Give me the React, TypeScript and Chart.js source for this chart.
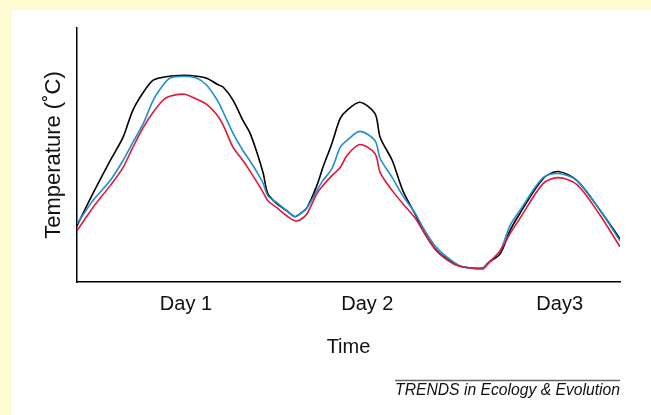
import { useEffect, useRef } from "react";
import { Chart, registerables } from "chart.js";

Chart.register(...registerables);

// Time in hours since start of record
const hours = [
  0, 2.1, 4.4, 6.1, 7.4, 8.8, 10.1, 11.4, 12.3, 14.2,
  15.9, 17.2, 18.6, 19.4, 20.7, 22.0, 22.9, 23.9, 24.7, 25.3,
  26.5, 27.8, 28.9, 29.6, 30.5, 31.8, 32.6, 33.8, 34.9, 35.8,
  37.5, 39.5, 40.2, 41.8, 43.2, 44.8, 45.9, 47.7, 49.9, 51.2,
  53.8, 54.5, 56.1, 57.4, 58.7, 61.8, 63.8, 66.3, 69.4, 72,
];

// Relative temperature (arbitrary units, axis has no numbers)
const blackSeries = [
  56, 88, 121, 144, 171, 189, 201, 204, 205, 206,
  205, 203, 197, 194, 181, 161, 149, 128, 108, 88,
  78, 71, 65, 68, 74, 96, 114, 138, 163, 171,
  179, 168, 144, 121, 91, 68, 51, 31, 19, 15,
  14, 19, 28, 51, 68, 103, 110, 101, 71, 43,
];

const blueSeries = [
  58, 81, 101, 121, 139, 158, 181, 196, 203, 205,
  203, 196, 181, 169, 148, 131, 121, 109, 98, 86,
  79, 71, 65, 68, 74, 91, 101, 113, 134, 141,
  150, 141, 123, 104, 86, 69, 54, 34, 20, 15,
  14, 19, 31, 56, 71, 104, 108, 101, 71, 41,
];

const redSeries = [
  51, 74, 96, 114, 134, 154, 169, 181, 185, 187,
  182, 177, 166, 156, 134, 121, 111, 99, 89, 81,
  74, 66, 61, 62, 68, 88, 96, 106, 114, 126,
  137, 128, 109, 91, 78, 64, 51, 31, 18, 15,
  13, 18, 31, 48, 63, 98, 104, 97, 66, 35,
];

const dayTickHours = [14.45, 38.5, 64.0];
const dayLabels = ["Day 1", "Day 2", "Day3"];

const yTitle = "Temperature (˚C)";
const xTitle = "Time";
const sourceNote = "TRENDS in Ecology & Evolution";

const FONT = "'Liberation Sans', Arial, Helvetica, sans-serif";

export default function App() {
  const ref = useRef<HTMLCanvasElement | null>(null);

  useEffect(() => {
    document.body.style.margin = "0";
    const canvas = ref.current;
    if (!canvas) return;

    const footer = {
      id: "footer",
      afterDraw(chart: any) {
        const { ctx, chartArea } = chart;
        ctx.save();
        ctx.font = `italic 15.7px ${FONT}`;
        const w = ctx.measureText(sourceNote).width;
        ctx.strokeStyle = "#666";
        ctx.lineWidth = 1.5;
        ctx.beginPath();
        ctx.moveTo(chartArea.right - w, chartArea.bottom + 98.5);
        ctx.lineTo(chartArea.right, chartArea.bottom + 98.5);
        ctx.stroke();
        ctx.fillStyle = "#111";
        ctx.textAlign = "right";
        ctx.textBaseline = "alphabetic";
        ctx.fillText(sourceNote, chartArea.right, chartArea.bottom + 113);
        ctx.restore();
      },
    };

    const mk = (vals: number[], color: string) => ({
      data: hours.map((h, i) => ({ x: h, y: vals[i] })),
      borderColor: color,
      borderWidth: 1.6,
      pointRadius: 0,
      tension: 0.3,
      fill: false,
    });

    const chart = new Chart(canvas, {
      type: "line",
      data: {
        datasets: [
          mk(redSeries, "#E3173A"),
          mk(blueSeries, "#1E90D0"),
          mk(blackSeries, "#000000"),
        ],
      },
      options: {
        animation: false,
        responsive: false,
        layout: { padding: { left: 19, right: 31, top: 18, bottom: 47 } },
        plugins: {
          legend: { display: false },
          tooltip: { enabled: false },
        },
        scales: {
          x: {
            type: "linear",
            min: 0,
            max: 72,
            afterBuildTicks: (scale: any) => {
              scale.ticks = dayTickHours.map((v) => ({ value: v }));
            },
            ticks: {
              autoSkip: false,
              maxRotation: 0,
              padding: 10,
              color: "#111",
              font: { family: FONT, size: 20 },
              callback: (v: any) => {
                const i = dayTickHours.indexOf(Number(v));
                return i >= 0 ? dayLabels[i] : "";
              },
            },
            grid: { display: false, drawTicks: false },
            border: { display: true, color: "#000", width: 1.5 },
            title: {
              display: true,
              text: xTitle,
              color: "#111",
              font: { family: FONT, size: 20 },
              padding: { top: 9, bottom: 9 },
            },
          },
          y: {
            min: 0,
            max: 253,
            ticks: { display: false },
            grid: { display: false, drawTicks: false },
            border: { display: true, color: "#000", width: 1.5 },
            title: {
              display: true,
              text: yTitle,
              color: "#111",
              font: { family: FONT, size: 22 },
              padding: { top: 9.8, bottom: 9.8 },
            },
          },
        },
      },
      plugins: [footer],
    });

    return () => chart.destroy();
  }, []);

  return (
    <div
      style={{
        position: "fixed",
        left: 0,
        top: 0,
        width: 651,
        height: 415,
        background: "#FFFBD3",
        overflow: "hidden",
      }}
    >
      <div
        style={{
          position: "absolute",
          left: 12,
          top: 10,
          width: 639,
          height: 405,
          background: "#FFFFFF",
        }}
      >
        <canvas ref={ref} width={639} height={405} style={{ display: "block" }} />
      </div>
    </div>
  );
}
